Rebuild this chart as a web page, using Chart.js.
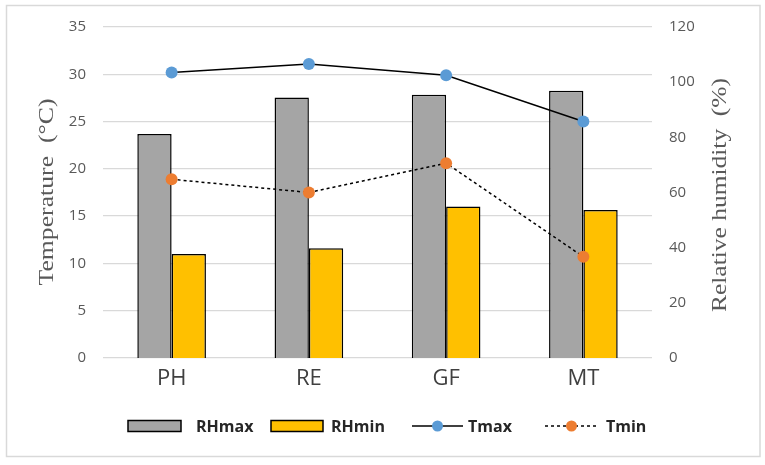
<!DOCTYPE html>
<html>
<head>
<meta charset="utf-8">
<script src="https://cdn.jsdelivr.net/npm/chart.js@4/dist/chart.umd.min.js"></script>
<style>
html,body{margin:0;padding:0;background:#fff;}
#wrap{width:765px;height:465px;position:relative;}
</style>
</head>
<body>
<div id="wrap"><canvas id="c" width="765" height="465"></canvas></div>
<script>
const categories = ['PH', 'RE', 'GF', 'MT'];
const rhMax = [81.2, 94.4, 95.4, 96.9];
const rhMin = [37.7, 39.8, 54.9, 53.7];
const tMax = [30.2, 31.1, 29.9, 25.0];
const tMin = [18.9, 17.5, 20.6, 10.7];
const tempTicks = { min: 0, max: 35, step: 5 };
const rhTicks = { min: 0, max: 120, step: 20 };
const seriesNames = ['RHmax', 'RHmin', 'Tmax', 'Tmin'];
const leftTitle = 'Temperature  (°C)';
const rightTitle = 'Relative humidity  (%)';

const GREY = '#a5a5a5', YELLOW = '#ffc000', BLUE = '#5b9bd5', ORANGE = '#ed7d31';
const TXT = '#595959';

const decor = {
  id: 'decor',
  afterDraw(chart) {
    const ctx = chart.ctx;
    ctx.save();
    // outer frame
    ctx.strokeStyle = '#d9d9d9';
    ctx.lineWidth = 1.5;
    ctx.strokeRect(6.5, 5.5, 753.5, 451);
    // axis titles
    function vtitle(text, cx, cy, len) {
      ctx.save();
      ctx.translate(cx, cy);
      ctx.rotate(-Math.PI / 2);
      ctx.font = '22px "Liberation Serif", "Times New Roman", serif';
      const w = ctx.measureText(text).width;
      ctx.scale(len / w, 1);
      ctx.fillStyle = TXT;
      ctx.textAlign = 'center';
      ctx.textBaseline = 'middle';
      ctx.fillText(text, 0, 0);
      ctx.restore();
    }
    vtitle(leftTitle, 47, 192, 187);
    vtitle(rightTitle, 720, 195, 234);
    // legend
    const ly = 426;
    ctx.font = 'bold 16px "Open Sans", sans-serif';
    ctx.textBaseline = 'middle';
    ctx.textAlign = 'left';
    const items = [
      { kind: 'bar', color: GREY, x0: 128, x1: 181, tx: 196 },
      { kind: 'bar', color: YELLOW, x0: 271, x1: 323, tx: 331 },
      { kind: 'line', color: BLUE, dash: [], x0: 412, x1: 463, tx: 468 },
      { kind: 'line', color: ORANGE, dash: [3, 3], x0: 545, x1: 598, tx: 606 }
    ];
    items.forEach((it, i) => {
      if (it.kind === 'bar') {
        ctx.fillStyle = it.color;
        ctx.fillRect(it.x0, ly - 5.5, it.x1 - it.x0, 11);
        ctx.strokeStyle = '#000';
        ctx.lineWidth = 1.5;
        ctx.strokeRect(it.x0, ly - 5.5, it.x1 - it.x0, 11);
      } else {
        ctx.strokeStyle = '#000';
        ctx.lineWidth = 1.5;
        ctx.setLineDash(it.dash);
        ctx.beginPath();
        ctx.moveTo(it.x0, ly);
        ctx.lineTo(it.x1, ly);
        ctx.stroke();
        ctx.setLineDash([]);
        ctx.fillStyle = it.color;
        ctx.beginPath();
        ctx.arc((it.x0 + it.x1) / 2, ly, 5.5, 0, Math.PI * 2);
        ctx.fill();
      }
      ctx.fillStyle = '#262626';
      ctx.fillText(seriesNames[i], it.tx, ly + 1);
    });
    ctx.restore();
  }
};

new Chart(document.getElementById('c'), {
  type: 'bar',
  data: {
    labels: categories,
    datasets: [
      { label: seriesNames[0], data: rhMax, yAxisID: 'y1', backgroundColor: GREY, borderColor: '#000', borderWidth: 1.5, order: 2, categoryPercentage: 0.5, barPercentage: 1 },
      { label: seriesNames[1], data: rhMin, yAxisID: 'y1', backgroundColor: YELLOW, borderColor: '#000', borderWidth: 1.5, order: 2, categoryPercentage: 0.5, barPercentage: 1 },
      { label: seriesNames[2], data: tMax, type: 'line', yAxisID: 'y', borderColor: '#000', borderWidth: 1.5, pointBackgroundColor: BLUE, pointBorderWidth: 0, pointRadius: 6, tension: 0, order: 0 },
      { label: seriesNames[3], data: tMin, type: 'line', yAxisID: 'y', borderColor: '#000', borderWidth: 1.5, borderDash: [3, 3], pointBackgroundColor: ORANGE, pointBorderWidth: 0, pointRadius: 6, tension: 0, order: 0 }
    ]
  },
  options: {
    responsive: false,
    animation: false,
    devicePixelRatio: 1,
    layout: { padding: { top: 27, left: 0, right: 0, bottom: 77 } },
    plugins: { legend: { display: false }, tooltip: { enabled: false } },
    scales: {
      x: {
        grid: { display: false },
        border: { display: false },
        ticks: { color: '#404040', font: { family: '"Open Sans", sans-serif', size: 22 }, padding: 0 },
        afterFit(s) { s.height = 30; }
      },
      y: {
        position: 'left',
        min: tempTicks.min, max: tempTicks.max,
        ticks: { stepSize: tempTicks.step, color: TXT, padding: 17, font: { family: '"Open Sans", sans-serif', size: 15 } },
        grid: { color: '#d9d9d9', lineWidth: 1.3, drawTicks: false },
        border: { display: false },
        afterFit(s) { s.width = 103; }
      },
      y1: {
        position: 'right',
        min: rhTicks.min, max: rhTicks.max,
        ticks: { stepSize: rhTicks.step, color: TXT, padding: 17, font: { family: '"Open Sans", sans-serif', size: 15 } },
        grid: { display: false, drawTicks: false },
        border: { display: false },
        afterFit(s) { s.width = 113; }
      }
    }
  },
  plugins: [decor]
});
</script>
</body>
</html>
